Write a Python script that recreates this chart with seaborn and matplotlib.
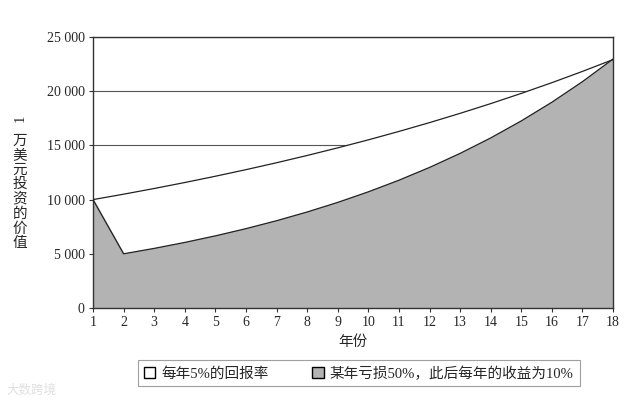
import matplotlib
matplotlib.use("Agg")
import matplotlib.pyplot as plt
from matplotlib.patches import Patch
from matplotlib.ticker import FuncFormatter
import seaborn as sns
import pandas as pd

# data
years = list(range(1, 19))
steady_5pct = [10000, 10500, 11025, 11576, 12155, 12763, 13401, 14071, 14775,
               15513, 16289, 17103, 17959, 18856, 19799, 20789, 21829, 22920]
loss_then_10pct = [10000, 5000, 5500, 6050, 6655, 7321, 8053, 8858, 9744,
                   10718, 11790, 12969, 14266, 15692, 17262, 18988, 20886, 22975]
legend_labels = ["每年5%的回报率", "某年亏损50%，此后每年的收益为10%"]

df = pd.DataFrame({"year": years, "a": steady_5pct, "b": loss_then_10pct})

sns.set_style("white")
plt.rcParams['font.family'] = ['Liberation Serif', 'Noto Sans CJK SC', 'DejaVu Sans']
plt.rcParams['font.size'] = 10

fig = plt.figure(figsize=(6.44, 4.05), dpi=100)
ax = fig.add_axes([0.1444, 0.2395, 0.8076, 0.6691])

ax.set_xlim(1, 18)
ax.set_ylim(0, 25000)
ax.set_yticks(range(0, 25001, 5000))
ax.set_xticks(years)
ax.yaxis.set_major_formatter(FuncFormatter(lambda v, p: f"{int(v):,}".replace(",", " ")))

# grid lines under the fills
for yv in range(5000, 25001, 5000):
    ax.axhline(yv, color="#555555", lw=0.8, zorder=0)

ax.fill_between(df["year"], 0, df["a"], color="white", zorder=1)
ax.fill_between(df["year"], 0, df["b"], color="#b3b3b3", zorder=2)
sns.lineplot(data=df, x="year", y="a", color="#222222", lw=0.9, ax=ax, zorder=3)
sns.lineplot(data=df, x="year", y="b", color="#222222", lw=0.9, ax=ax, zorder=3)

for s in ax.spines.values():
    s.set_color("#333333")
    s.set_linewidth(1.0)
ax.tick_params(axis="both", direction="out", length=3, width=0.8, color="#333333",
               labelsize=10, pad=3, bottom=True, left=True)

ax.set_xlabel("年份", fontsize=10.5, labelpad=4)
ax.set_ylabel("")
fig.text(0.031, 0.707, "1", rotation=90, fontsize=10.5, ha="center", va="center")
fig.text(0.031, 0.525, "\n".join("万美元投资的价值"), fontsize=10.5, ha="center", va="center",
         linespacing=1.12)

handles = [Patch(facecolor="white", edgecolor="black", lw=1.0),
           Patch(facecolor="#b3b3b3", edgecolor="black", lw=1.0)]
leg = fig.legend(handles, legend_labels, ncol=2, loc="center",
                 bbox_to_anchor=(0.557, 0.078), fancybox=False, frameon=True,
                 handlelength=0.8, handleheight=0.8, handletextpad=0.4,
                 columnspacing=3.0, borderpad=0.4, fontsize=10.5)
leg.get_frame().set_edgecolor("#888888")
leg.get_frame().set_linewidth(0.8)

fig.text(0.01, 0.035, "大数跨境", fontsize=9, color="#e0e0e0", ha="left", va="center")

fig.savefig("out.png", dpi=100)
